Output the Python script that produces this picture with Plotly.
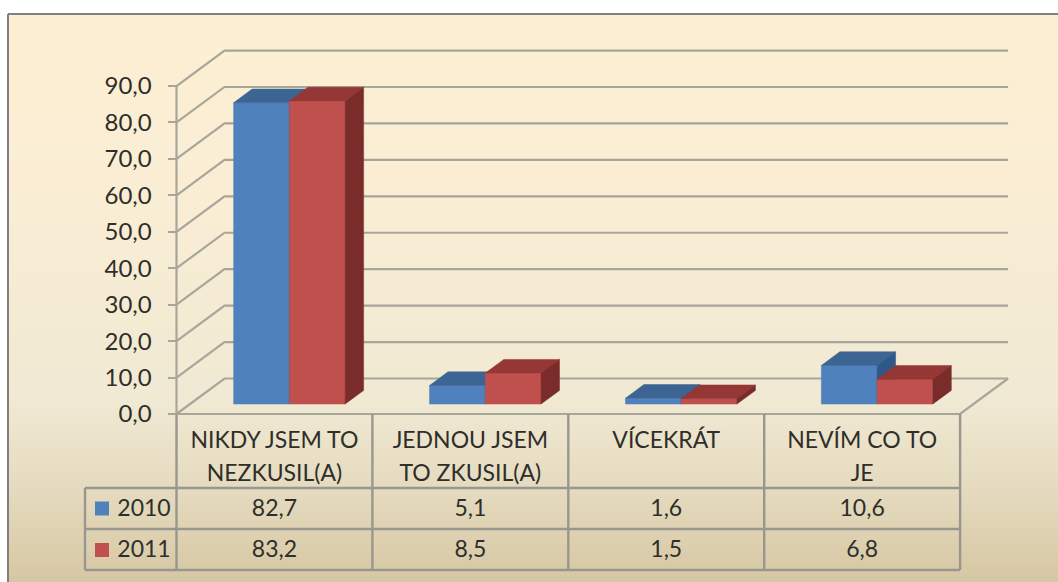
import plotly.graph_objects as go

# --- data ---
CATEGORY_LINES = [["NIKDY JSEM TO", "NEZKUSIL(A)"], ["JEDNOU JSEM", "TO ZKUSIL(A)"], ["VÍCEKRÁT"], ["NEVÍM CO TO", "JE"]]
SERIES_NAMES = ["2010", "2011"]
VALUES_2010 = [82.7, 5.1, 1.6, 10.6]
VALUES_2011 = [83.2, 8.5, 1.5, 6.8]
Y_TICKS = [0, 10, 20, 30, 40, 50, 60, 70, 80, 90]

# --- style / layout constants ---
W, H = 1058, 582
FONT = "Lato"
TXT = "#2e2e2a"
GRID = "#a8a59b"
TABLE = "#98978f"
FACES = [("#4F81BD", "#3D6594", "#2F5788"), ("#C0504D", "#943735", "#7A2C2B")]
KEY_COL = ["#4F81BD", "#C0504D"]
X0_PX, CAT_PX, Y0_PX, UNIT_PX = 176.5, 195.9, 414.0, 3.644
LEFT_PX, TOP_PX = 8, 14

def xd(p): return -0.5 + (p - X0_PX) / CAT_PX
def yd(p): return (Y0_PX - p) / UNIT_PX

DX, DY = 48 / CAT_PX, 35.5 / UNIT_PX   # full floor depth in data units
BAR_W = 55.75 / CAT_PX
BAR_SHIFT = 1.5 / CAT_PX
BAR_START, BAR_DEPTH = 0.28, 0.385     # fractions of floor depth
N = len(CATEGORY_LINES)

fig = go.Figure()

# background gradient
rows = list(range(TOP_PX, H + 2, 2))
fig.add_trace(go.Heatmap(
    x=[xd(LEFT_PX), xd(W + 2)], y=[yd(p) for p in rows],
    z=[[p] for p in rows[:-1]], zmin=TOP_PX, zmax=H,
    colorscale=[[0, "#FDEFD3"], [0.35, "#F9EDD4"], [0.68, "#F0E9D3"], [0.85, "#E4D9BD"], [1, "#D6C7A2"]],
    showscale=False, hoverinfo="skip"))

def line(xs, ys, w=2.2, color=GRID):
    fig.add_trace(go.Scatter(x=xs, y=ys, mode="lines", line=dict(color=color, width=w),
                             hoverinfo="skip", showlegend=False))

xl, xr = -0.5, N - 0.5
# grid: side-wall diagonals and back-wall lines
for t in Y_TICKS:
    line([xl, xl + DX, xr + DX], [t, t + DY, t + DY])
line([xl, xl], [0, Y_TICKS[-1]])
# floor
line([xl, xr, xr + DX], [0, 0, DY])

def poly(xs, ys, color, name):
    fig.add_trace(go.Scatter(x=xs, y=ys, mode="lines", fill="toself", fillcolor=color,
                             line=dict(color=color, width=0.5), name=name, showlegend=False,
                             hoverinfo="skip"))

# 3D bars
for i in range(N):
    for s, vals in enumerate([VALUES_2010, VALUES_2011]):
        v = vals[i]
        bx0 = i - BAR_W + BAR_START * DX + (s * BAR_W) + BAR_SHIFT
        bx1 = bx0 + BAR_W
        by0 = BAR_START * DY
        ddx, ddy = BAR_DEPTH * DX, BAR_DEPTH * DY
        front, top, side = FACES[s]
        poly([bx0, bx1, bx1, bx0, bx0], [by0, by0, by0 + v, by0 + v, by0], front, SERIES_NAMES[s])
        poly([bx0, bx1, bx1 + ddx, bx0 + ddx, bx0],
             [by0 + v, by0 + v, by0 + v + ddy, by0 + v + ddy, by0 + v], top, SERIES_NAMES[s])
        poly([bx1, bx1 + ddx, bx1 + ddx, bx1, bx1],
             [by0, by0 + ddy, by0 + v + ddy, by0 + v, by0], side, SERIES_NAMES[s])

def texts(xs, ys, labels):
    fig.add_trace(go.Scatter(x=xs, y=ys, mode="text", text=labels, textposition="middle center",
                             textfont=dict(family=FONT, size=23, color=TXT),
                             hoverinfo="skip", showlegend=False))

# category labels in table header
LINE_Y = [442.5, 475.5]
for j in range(2):
    cs = [i for i in range(N) if len(CATEGORY_LINES[i]) > j]
    texts(cs, [yd(LINE_Y[j])] * len(cs), [CATEGORY_LINES[i][j] for i in cs])

# table values
ROW_Y = [510, 551.5]
for vals, py in zip([VALUES_2010, VALUES_2011], ROW_Y):
    texts(list(range(N)), [yd(py)] * N, [f"{v:.1f}".replace(".", ",") for v in vals])
texts([xd(144)] * 2, [yd(p) for p in ROW_Y], SERIES_NAMES)
fig.add_trace(go.Scatter(x=[xd(102)] * 2, y=[yd(p - 1.5) for p in ROW_Y], mode="markers",
                         marker=dict(symbol="square", size=14, color=KEY_COL, line=dict(width=0)),
                         hoverinfo="skip", showlegend=False))

# table lines
T_RIGHT, T_LEFT = xr, xd(85)
RY = [488, 529, 570]
for p in RY:
    line([T_LEFT, T_RIGHT], [yd(p), yd(p)], 2.4, TABLE)
for c in range(N + 1):
    line([xl + c, xl + c], [0, yd(RY[-1])], 2.4, TABLE)
line([T_LEFT, T_LEFT], [yd(RY[0]), yd(RY[-1])], 2.4, TABLE)

fig.update_layout(
    width=W, height=H, margin=dict(l=0, r=0, t=0, b=0),
    paper_bgcolor="white", plot_bgcolor="white", showlegend=False,
    separators=", ", font=dict(family=FONT, color=TXT),
    xaxis=dict(range=[xd(0), xd(W)], domain=[0, 1], visible=False, fixedrange=True),
    yaxis=dict(range=[yd(H), yd(0)], domain=[0, 1], anchor="free", position=X0_PX / W,
               tickvals=Y_TICKS, tickformat=".1f", ticks="outside", ticklen=9, tickwidth=2,
               tickcolor=GRID, showgrid=False, zeroline=False, showline=False,
               tickfont=dict(family=FONT, size=24, color=TXT), ticklabelstandoff=11, fixedrange=True),
    shapes=[dict(type="line", xref="paper", yref="paper", x0=LEFT_PX / W, x1=1, y0=1 - TOP_PX / H, y1=1 - TOP_PX / H,
                 line=dict(color="#808080", width=2)),
            dict(type="line", xref="paper", yref="paper", x0=LEFT_PX / W, x1=LEFT_PX / W, y0=0, y1=1 - TOP_PX / H,
                 line=dict(color="#808080", width=2))],
)
fig.write_html("out.html", config={"displayModeBar": False},
               post_script="document.body.style.margin='0';document.body.style.overflow='hidden';")
